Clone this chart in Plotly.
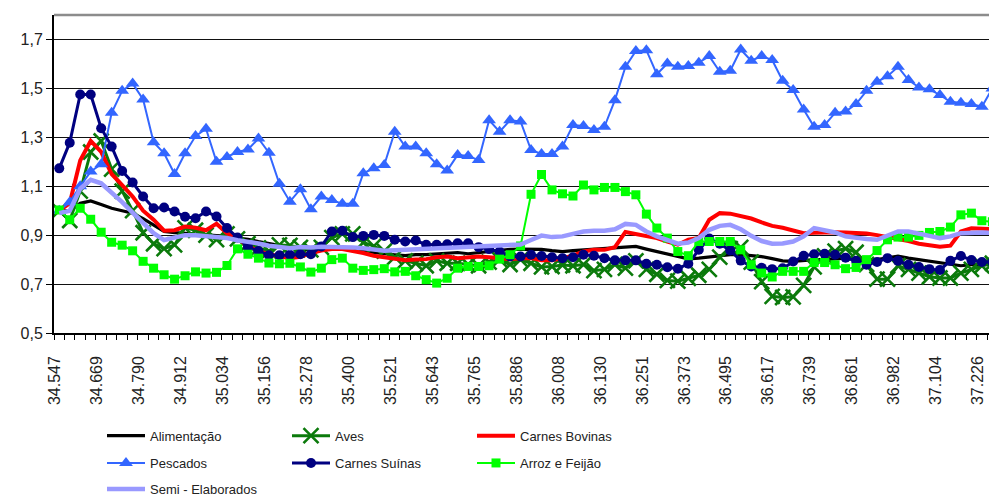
import pandas as pd
import plotly.graph_objects as go

# Monthly Excel date serials (Aug 1994 .. Jan 2002)
dates = pd.date_range("1994-08-01", periods=90, freq="MS")
serials = [(d - pd.Timestamp("1899-12-30")).days for d in dates]
labels = [f"{s:,}".replace(",", ".") for s in serials]

alimentacao = [1.0, 1.0, 1.03, 1.04, 1.025, 1.01, 1.0, 0.99, 0.968, 0.942, 0.915, 0.91, 0.907, 0.902, 0.9, 0.897,
               0.895, 0.888, 0.883, 0.874, 0.866, 0.857, 0.848, 0.842, 0.84, 0.843, 0.845, 0.847, 0.843, 0.834,
               0.829, 0.826, 0.82, 0.816, 0.82, 0.82, 0.822, 0.826, 0.829, 0.824, 0.829, 0.833, 0.838, 0.842,
               0.843, 0.843, 0.842, 0.837, 0.833, 0.837, 0.84, 0.843, 0.847, 0.848, 0.851, 0.854, 0.843, 0.833,
               0.82, 0.81, 0.803, 0.806, 0.81, 0.813, 0.82, 0.82, 0.816, 0.812, 0.804, 0.795, 0.793, 0.797, 0.8,
               0.8, 0.802, 0.806, 0.8, 0.797, 0.8, 0.806, 0.814, 0.806, 0.8, 0.793, 0.786, 0.779, 0.775, 0.779,
               0.779, 0.78]
aves = [1.0, 0.96, 1.08, 1.24, 1.285, 1.17, 1.08, 1.0, 0.91, 0.865, 0.845, 0.86, 0.93, 0.92, 0.9, 0.882, 0.905,
        0.885, 0.865, 0.848, 0.835, 0.86, 0.858, 0.85, 0.84, 0.85, 0.89, 0.905, 0.905, 0.87, 0.855, 0.835, 0.81,
        0.795, 0.785, 0.775, 0.795, 0.785, 0.785, 0.78, 0.775, 0.79, 0.8, 0.78, 0.8, 0.785, 0.77, 0.772, 0.778,
        0.775, 0.78, 0.755, 0.76, 0.78, 0.765, 0.795, 0.76, 0.74, 0.715, 0.712, 0.724, 0.736, 0.76, 0.81, 0.845,
        0.85, 0.79, 0.71, 0.65, 0.645, 0.648, 0.695, 0.77, 0.815, 0.835, 0.845, 0.83, 0.78, 0.72, 0.72, 0.775,
        0.76, 0.745, 0.73, 0.725, 0.725, 0.745, 0.76, 0.775, 0.785]
bovinas = [1.0, 1.03, 1.205, 1.285, 1.24, 1.15, 1.105, 1.058, 1.0, 0.963, 0.918, 0.92, 0.935, 0.93, 0.92, 0.947,
           0.908, 0.888, 0.855, 0.835, 0.822, 0.812, 0.806, 0.812, 0.827, 0.837, 0.843, 0.843, 0.837, 0.827,
           0.816, 0.81, 0.8, 0.797, 0.8, 0.802, 0.81, 0.813, 0.806, 0.81, 0.813, 0.81, 0.806, 0.802, 0.806,
           0.806, 0.797, 0.797, 0.806, 0.816, 0.833, 0.84, 0.84, 0.851, 0.913, 0.906, 0.895, 0.888, 0.874,
           0.861, 0.881, 0.888, 0.963, 0.99, 0.988, 0.979, 0.968, 0.952, 0.938, 0.93, 0.919, 0.908, 0.91,
           0.913, 0.912, 0.911, 0.91, 0.907, 0.9, 0.893, 0.885, 0.876, 0.865, 0.857, 0.853, 0.857, 0.915,
           0.928, 0.925, 0.925]
pescados = [1.0, 1.035, 1.1, 1.16, 1.19, 1.4, 1.49, 1.52, 1.455, 1.28, 1.235, 1.15, 1.235, 1.305, 1.335, 1.2,
            1.22, 1.24, 1.25, 1.295, 1.237, 1.11, 1.037, 1.088, 1.006, 1.058, 1.044, 1.028, 1.028, 1.153, 1.173,
            1.187, 1.323, 1.262, 1.262, 1.235, 1.19, 1.164, 1.228, 1.224, 1.207, 1.37, 1.323, 1.37, 1.365,
            1.248, 1.232, 1.232, 1.262, 1.35, 1.346, 1.33, 1.343, 1.452, 1.588, 1.653, 1.656, 1.558, 1.602,
            1.588, 1.591, 1.605, 1.632, 1.568, 1.572, 1.659, 1.613, 1.632, 1.616, 1.531, 1.493, 1.414, 1.343,
            1.35, 1.4, 1.405, 1.436, 1.49, 1.527, 1.55, 1.588, 1.534, 1.504, 1.496, 1.473, 1.445, 1.441, 1.436,
            1.425, 1.5]
suinas = [1.173, 1.278, 1.475, 1.475, 1.337, 1.262, 1.162, 1.115, 1.058, 1.01, 1.013, 0.997, 0.975, 0.969,
          0.997, 0.976, 0.929, 0.89, 0.852, 0.835, 0.818, 0.818, 0.82, 0.822, 0.822, 0.854, 0.915, 0.918, 0.892,
          0.897, 0.901, 0.897, 0.881, 0.874, 0.878, 0.861, 0.861, 0.863, 0.867, 0.867, 0.851, 0.843, 0.833,
          0.813, 0.813, 0.82, 0.815, 0.81, 0.806, 0.81, 0.82, 0.816, 0.806, 0.797, 0.797, 0.797, 0.783, 0.779,
          0.769, 0.763, 0.783, 0.84, 0.886, 0.865, 0.837, 0.796, 0.772, 0.767, 0.761, 0.765, 0.792, 0.816,
          0.822, 0.824, 0.82, 0.808, 0.795, 0.779, 0.79, 0.806, 0.795, 0.779, 0.77, 0.761, 0.758, 0.795, 0.815,
          0.798, 0.79, 0.79]
arroz = [1.003, 0.963, 1.01, 0.965, 0.912, 0.871, 0.859, 0.836, 0.793, 0.765, 0.738, 0.72, 0.734, 0.75, 0.745,
         0.748, 0.776, 0.844, 0.822, 0.806, 0.786, 0.783, 0.785, 0.77, 0.749, 0.765, 0.8, 0.806, 0.765, 0.756,
         0.759, 0.763, 0.75, 0.752, 0.734, 0.718, 0.704, 0.724, 0.765, 0.772, 0.772, 0.775, 0.802, 0.82, 0.856,
         1.067, 1.148, 1.085, 1.069, 1.06, 1.105, 1.085, 1.095, 1.095, 1.078, 1.065, 0.986, 0.929, 0.888, 0.833,
         0.816, 0.874, 0.874, 0.874, 0.874, 0.84, 0.779, 0.745, 0.729, 0.752, 0.752, 0.752, 0.788, 0.788, 0.779,
         0.763, 0.768, 0.8, 0.837, 0.881, 0.892, 0.892, 0.899, 0.911, 0.915, 0.933, 0.983, 0.99, 0.959, 0.955]
semi = [0.99, 1.0, 1.09, 1.126, 1.112, 1.075, 1.035, 0.992, 0.95, 0.908, 0.88, 0.888, 0.9, 0.9, 0.897, 0.892,
        0.888, 0.879, 0.874, 0.866, 0.857, 0.851, 0.847, 0.852, 0.85, 0.853, 0.853, 0.853, 0.85, 0.846, 0.84,
        0.836, 0.838, 0.84, 0.84, 0.843, 0.845, 0.847, 0.85, 0.85, 0.85, 0.853, 0.855, 0.857, 0.862, 0.88,
        0.898, 0.892, 0.895, 0.905, 0.915, 0.918, 0.918, 0.924, 0.946, 0.942, 0.915, 0.895, 0.881, 0.865, 0.87,
        0.888, 0.922, 0.938, 0.942, 0.924, 0.897, 0.876, 0.865, 0.866, 0.874, 0.895, 0.929, 0.922, 0.911,
        0.895, 0.888, 0.884, 0.881, 0.897, 0.915, 0.915, 0.908, 0.897, 0.888, 0.895, 0.908, 0.911, 0.911, 0.91]

y_ticks = [0.5, 0.7, 0.9, 1.1, 1.3, 1.5, 1.7]
y_ticktext = [f"{v:.1f}".replace(".", ",") for v in y_ticks]

x = list(range(len(serials)))
label_idx = list(range(0, len(serials), 4))

fig = go.Figure()

def add(name, y, color, width, legend, marker=None):
    mode = "lines+markers" if marker else "lines"
    fig.add_trace(go.Scatter(x=x, y=y, name=name, mode=mode, legend=legend,
                             line=dict(color=color, width=width),
                             marker=marker))

add("Alimentação", alimentacao, "#000000", 3.2, "legend")
add("Aves", aves, "#0b7a0b", 3, "legend",
    dict(symbol="x-thin", size=15, color="#0b7a0b", line=dict(width=2.6, color="#0b7a0b")))
add("Carnes Bovinas", bovinas, "#ff0000", 4, "legend")
add("Pescados", pescados, "#3366ff", 2, "legend2", dict(symbol="triangle-up", size=12, color="#3366ff"))
add("Carnes Suínas", suinas, "#000080", 3, "legend2", dict(symbol="circle", size=10, color="#000080"))
add("Arroz e Feijão", arroz, "#00ff00", 2, "legend2", dict(symbol="square", size=9, color="#00ff00"))
add("Semi - Elaborados", semi, "#9999ff", 4.5, "legend3")

legfont = dict(family="Liberation Sans, sans-serif", size=13, color="#222")
common = dict(orientation="h", xref="container", yref="container", xanchor="left", yanchor="middle",
              font=legfont, itemwidth=38, entrywidth=132, entrywidthmode="pixels",
              bgcolor="rgba(0,0,0,0)", traceorder="normal")
leg_x = 102 / 989

fig.update_layout(
    width=989, height=498,
    margin=dict(l=54, r=0, t=15, b=165),
    paper_bgcolor="white", plot_bgcolor="white",
    showlegend=True,
    legend=dict(x=leg_x, y=1 - 435.7 / 498, **common),
    legend2=dict(x=leg_x, y=1 - 463 / 498, **common),
    legend3=dict(x=leg_x, y=1 - 489 / 498, **common),
    xaxis=dict(range=[-0.5, 88.68], showgrid=False, zeroline=False,
               showline=True, linecolor="black", linewidth=1.5,
               tickmode="array", tickvals=[x[i] for i in label_idx], ticktext=[labels[i] for i in label_idx],
               tickangle=-90, ticks="", ticklabelstandoff=15, ticklabelshift=-4,
               tickfont=dict(family="Liberation Sans, sans-serif", size=16, color="#222"),
               minor=dict(tickmode="array", tickvals=[i - 0.5 for i in x], ticks="outside",
                          ticklen=5, tickcolor="black", tickwidth=1)),
    yaxis=dict(range=[0.5, 1.8], tickmode="array", tickvals=y_ticks, ticktext=y_ticktext,
               showgrid=True, gridcolor="#111", gridwidth=1, zeroline=False,
               showline=True, linecolor="black", linewidth=2,
               ticks="outside", ticklen=6, tickcolor="black",
               tickfont=dict(family="Liberation Sans, sans-serif", size=16, color="#222")),
    shapes=[dict(type="line", xref="paper", yref="paper", x0=0, x1=1, y0=1, y1=1,
                 line=dict(color="#8c8c8c", width=2.5))],
)

fig.write_html("out.html", config={"displayModeBar": False},
               post_script="document.body.style.margin='0';document.body.style.overflow='hidden';")
